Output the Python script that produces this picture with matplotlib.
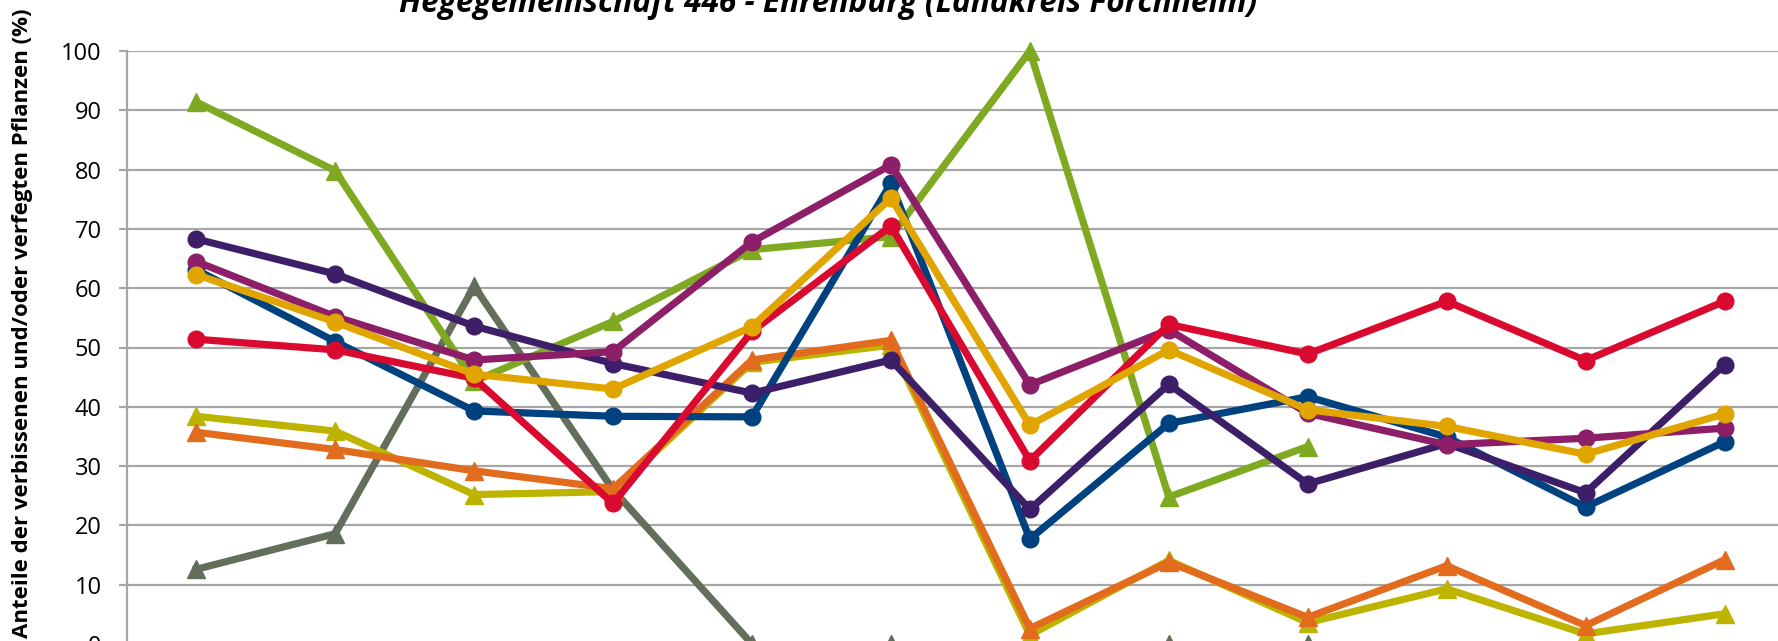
import numpy as np
import matplotlib
matplotlib.use("Agg")
import matplotlib.pyplot as plt

plt.rcParams['font.family'] = ['Open Sans', 'DejaVu Sans']

cats = np.arange(1, 13)
nan = np.nan

# values (%)
gray_s = [12.6, 18.6, 60.3, 26.0, 0, 0, nan, 0, 0, nan, nan, nan]
yellow_s = [38.4, 35.9, 25.2, 25.7, 47.5, 50.4, 1.5, 14.1, 3.6, 9.3, 1.7, 5.1]
orange_s = [35.7, 32.8, 29.2, 26.2, 47.9, 51.2, 2.6, 13.8, 4.5, 13.2, 3.1, 14.2]
green_s = [91.4, 79.8, 44.3, 54.4, 66.5, 68.7, 100, 24.8, 33.3, nan, nan, nan]
blue_s = [63.1, 51.0, 39.3, 38.4, 38.3, 77.7, 17.7, 37.2, 41.7, 34.9, 23.1, 34.1]
purple_s = [68.3, 62.4, 53.6, 47.3, 42.3, 47.9, 22.7, 43.8, 27.0, 33.8, 25.5, 47.1]
magenta_s = [64.5, 55.2, 47.9, 49.3, 67.8, 80.8, 43.7, 53.0, 38.9, 33.6, 34.7, 36.4]
red_s = [51.4, 49.6, 44.8, 23.7, 52.7, 70.5, 30.9, 53.9, 48.9, 57.8, 47.8, 57.8]
gold_s = [62.3, 54.3, 45.5, 43.0, 53.5, 75.2, 36.9, 49.6, 39.5, 36.7, 32.0, 38.8]

series = [
    (gray_s, "#636e5b", "^"),
    (yellow_s, "#bdb400", "^"),
    (orange_s, "#e36b1e", "^"),
    (green_s, "#80a922", "^"),
    (blue_s, "#00427f", "o"),
    (purple_s, "#3d1f69", "o"),
    (magenta_s, "#8c1f67", "o"),
    (red_s, "#d9092f", "o"),
    (gold_s, "#e1a500", "o"),
]

W, H = 1778, 641
fig = plt.figure(figsize=(W / 100, H / 100), dpi=100)
left, right = 126.8, 1794.0
y0, y100 = 644.0, 51.0
ax = fig.add_axes([left / W, (H - y0) / H, (right - left) / W, (y0 - y100) / H])

for vals, col, mk in series:
    ms = 12 if mk == "o" else 13.5
    ax.plot(cats, vals, color=col, lw=5.2, marker=mk, ms=ms, mec=col, mfc=col,
            solid_joinstyle="miter", clip_on=False)

ax.set_xlim(0.5, 12.5)
ax.set_ylim(0, 100)
ax.set_yticks(np.arange(0, 101, 10))
ax.set_xticks([])
ax.grid(axis="y", color="#a6a6a6", lw=1.6)
ax.set_axisbelow(True)
for s in ["top", "right", "bottom"]:
    ax.spines[s].set_visible(False)
ax.spines["left"].set_color("#a6a6a6")
ax.spines["left"].set_linewidth(1.6)
ax.tick_params(axis="y", length=6, width=1.6, color="#a6a6a6", labelsize=17, pad=12)

fig.text(828 / W, 1 - 11.7 / H, "Hegegemeinschaft 446 - Ehrenburg (Landkreis Forchheim)",
         ha="center", va="baseline", fontsize=22.8, fontweight="bold", fontstyle="italic")
fig.text(23 / W, 1 - 8 / H, "Anteile der verbissenen und/oder verfegten Pflanzen (%)",
         rotation=90, ha="center", va="top", fontsize=16, fontweight="bold")

fig.savefig("out.png", dpi=100)
